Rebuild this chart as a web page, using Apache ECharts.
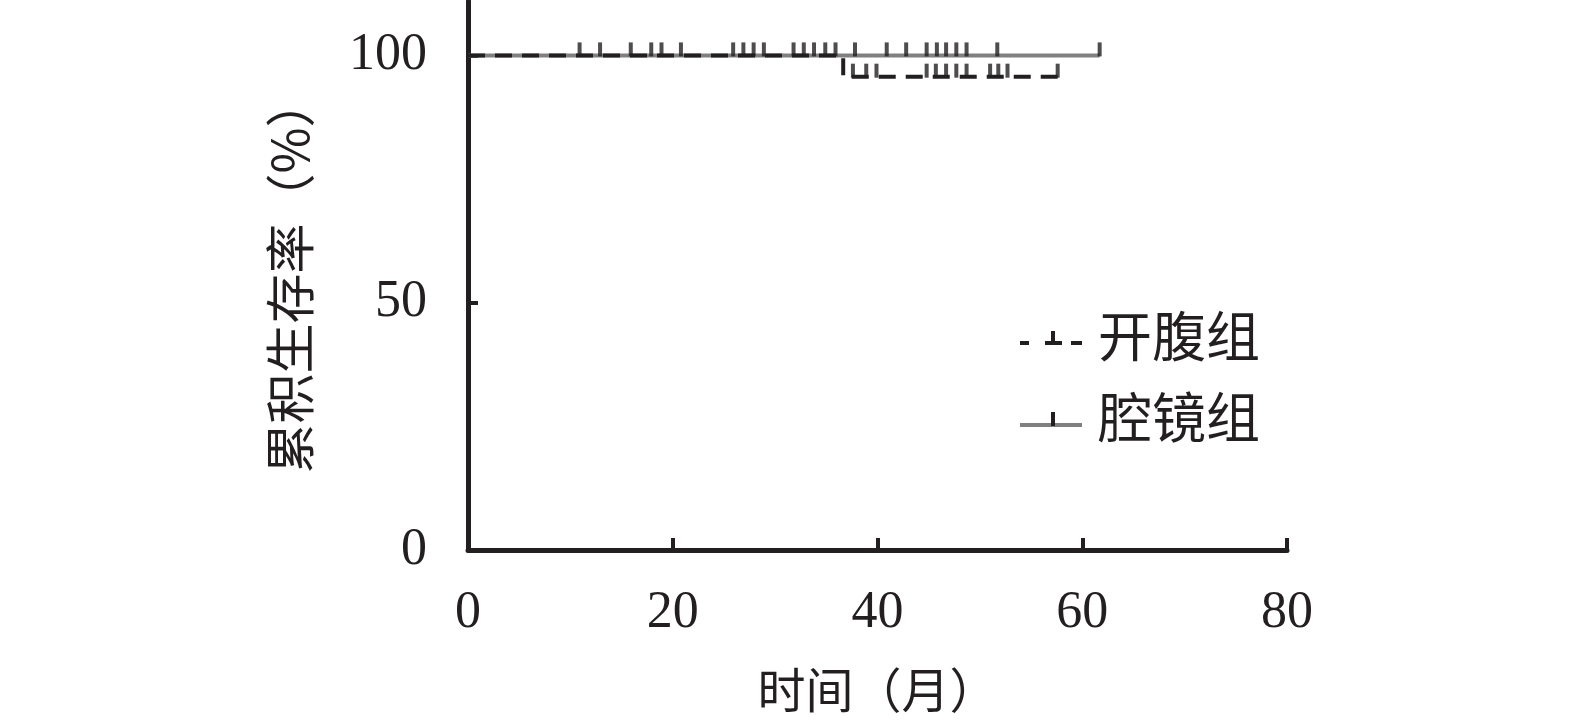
<!DOCTYPE html>
<html>
<head>
<meta charset="utf-8">
<script src="https://cdn.jsdelivr.net/npm/echarts@6/dist/echarts.min.js"></script>
<style>
html,body{margin:0;padding:0;background:#fff;}
#c{width:1575px;height:728px;}
</style>
</head>
<body>
<div id="c"></div>
<script>
// ---- data ----
const seriesNames = ['开腹组', '腔镜组'];
const xTicks = [0, 20, 40, 60, 80];
const yTicks = [0, 50, 100];
// Kaplan-Meier step curves (time in months, survival %)
const openCurveT = [0, 36.65, 57.6];
const openCurveS = [100, 95.7, 95.7];
const lapCurveT = [0, 61.7];
const lapCurveS = [100, 100];
// censored observation times
const openCensorT = [10.9, 15.9, 18.9, 25.9, 27.9, 31.8, 33.8, 35.9, 37.6, 38.9, 39.9, 44.8, 45.7, 46.7, 47.7, 48.7, 51.0, 51.8, 52.7, 57.6];
const lapCensorT = [12.9, 17.9, 20.8, 26.9, 28.9, 32.8, 34.9, 37.8, 40.9, 42.8, 44.8, 45.8, 46.7, 47.7, 48.7, 51.7, 61.7];
const xTitle = '时间（月）';
const yTitle = '累积生存率（%）';

// ---- helpers ----
function zip(a, b) { return a.map((v, i) => [v, b[i]]); }
function levelAt(T, S, t) {
  let s = S[0];
  for (let i = 0; i < T.length; i++) { if (T[i] <= t) s = S[i]; }
  return s;
}
const INK = '#231f20';
const GRAY = '#808080';
const serif = '"Liberation Serif", "DejaVu Serif", serif';
const cjk = '"Noto Sans CJK SC", sans-serif';

const chart = echarts.init(document.getElementById('c'), null, {renderer: 'canvas'});
chart.setOption({
  animation: false,
  backgroundColor: '#fff',
  grid: {left: 468, right: 288, top: 1, bottom: 178, containLabel: false},
  xAxis: {
    type: 'value', min: 0, max: 80, interval: 20,
    name: xTitle, nameLocation: 'middle', nameGap: 116,
    nameTextStyle: {fontFamily: cjk, fontSize: 48, color: INK},
    axisLine: {show: true, onZero: false, lineStyle: {color: INK, width: 5}},
    axisTick: {show: true, inside: true, length: 12, lineStyle: {color: INK, width: 4}, customValues: xTicks},
    axisLabel: {fontFamily: serif, fontSize: 52, color: INK, margin: 37, customValues: xTicks},
    splitLine: {show: false}
  },
  yAxis: {
    type: 'value', min: 0, max: 111, interval: 50,
    name: yTitle, nameLocation: 'middle', nameGap: 153,
    nameTextStyle: {fontFamily: cjk, fontSize: 50, color: INK},
    axisLine: {show: true, onZero: false, lineStyle: {color: INK, width: 5}},
    axisTick: {show: true, inside: true, length: 10, lineStyle: {color: INK, width: 4}, customValues: yTicks},
    axisLabel: {fontFamily: serif, fontSize: 52, color: INK, margin: 41, customValues: yTicks},
    splitLine: {show: false}
  },
  series: [
    {
      name: seriesNames[1], type: 'line', step: 'end', z: 2,
      data: zip(lapCurveT, lapCurveS), showSymbol: false, symbol: 'none',
      lineStyle: {color: GRAY, width: 4}
    },
    {
      name: seriesNames[0], type: 'line', step: 'end', z: 3,
      data: zip(openCurveT, openCurveS), showSymbol: false, symbol: 'none',
      lineStyle: {color: INK, width: 4, type: [17, 10]}
    },
    {
      name: seriesNames[0] + '删失', type: 'scatter', z: 4,
      data: openCensorT.map(t => [t, levelAt(openCurveT, openCurveS, t)]),
      symbol: 'rect', symbolSize: [4, 14], symbolOffset: [0, -6],
      itemStyle: {color: INK}
    },
    {
      name: seriesNames[1] + '删失', type: 'scatter', z: 4,
      data: lapCensorT.map(t => [t, levelAt(lapCurveT, lapCurveS, t)]),
      symbol: 'rect', symbolSize: [4, 14], symbolOffset: [0, -6],
      itemStyle: {color: INK}
    }
  ],
  graphic: [
    // legend: 开腹组 (dashed with tick)
    {type: 'line', shape: {x1: 1020, y1: 343, x2: 1029, y2: 343}, style: {stroke: INK, lineWidth: 4}},
    {type: 'line', shape: {x1: 1045, y1: 343, x2: 1062, y2: 343}, style: {stroke: INK, lineWidth: 4}},
    {type: 'line', shape: {x1: 1053, y1: 331, x2: 1053, y2: 345}, style: {stroke: INK, lineWidth: 4}},
    {type: 'line', shape: {x1: 1071, y1: 343, x2: 1082, y2: 343}, style: {stroke: INK, lineWidth: 4}},
    {type: 'text', left: 1098, top: 343 - 34, style: {text: seriesNames[0], font: '54px ' + cjk, fill: INK}},
    // legend: 腔镜组 (gray solid with tick)
    {type: 'line', shape: {x1: 1020, y1: 425, x2: 1082, y2: 425}, style: {stroke: GRAY, lineWidth: 4}},
    {type: 'line', shape: {x1: 1053, y1: 412, x2: 1053, y2: 426}, style: {stroke: INK, lineWidth: 4}},
    {type: 'text', left: 1098, top: 424 - 34, style: {text: seriesNames[1], font: '54px ' + cjk, fill: INK}}
  ]
});
</script>
</body>
</html>
